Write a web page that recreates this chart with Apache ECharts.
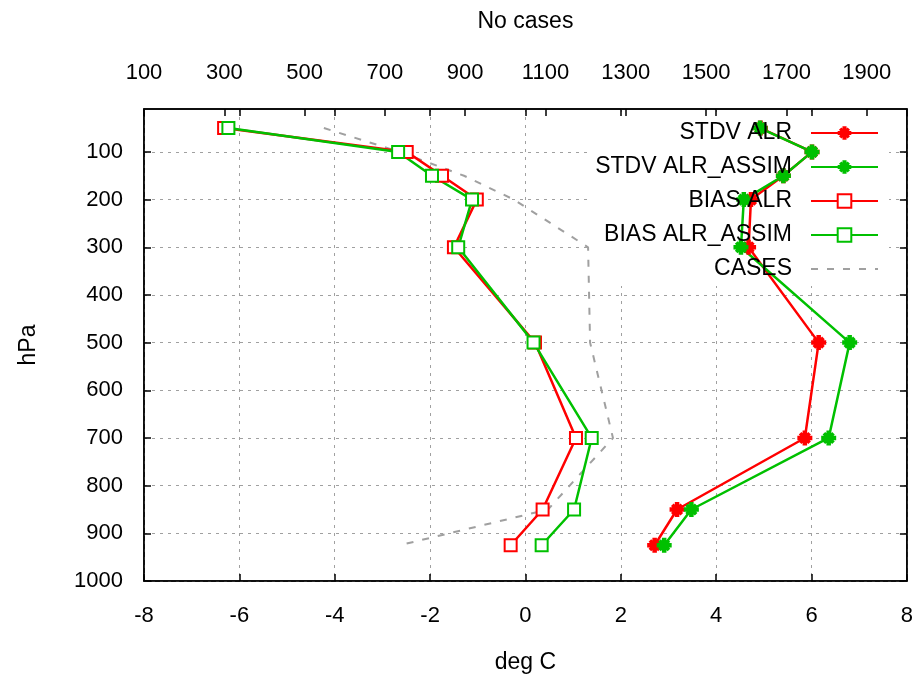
<!DOCTYPE html>
<html>
<head>
<meta charset="utf-8">
<script src="https://cdn.jsdelivr.net/npm/echarts@6/dist/echarts.min.js"></script>
<style>
  html, body { margin: 0; padding: 0; background: #ffffff; }
  #chart { width: 916px; height: 680px; }
</style>
</head>
<body>
<div id="chart"></div>
<script>
// Pressure levels (hPa) of the profile
const levels = [50, 100, 150, 200, 300, 500, 700, 850, 925];

// Standard deviation of the lapse-rate error (deg C)
const stdvAlr      = [4.93, 6.01, 5.41, 4.73, 4.68, 6.15, 5.86, 3.18, 2.71];
const stdvAlrAssim = [4.92, 6.01, 5.41, 4.58, 4.52, 6.80, 6.36, 3.48, 2.91];

// Bias of the lapse-rate error (deg C)
const biasAlr      = [-6.32, -2.49, -1.75, -1.02, -1.50, 0.20, 1.06, 0.36, -0.31];
const biasAlrAssim = [-6.23, -2.67, -1.96, -1.12, -1.41, 0.17, 1.39, 1.02, 0.34];

// Number of cases per level
const cases = [548, 737, 897, 1021, 1206, 1211, 1268, 1106, 737];

// Tick labels
const pressureTicks = [100, 200, 300, 400, 500, 600, 700, 800, 900, 1000];
const caseTicks = [100, 300, 500, 700, 900, 1100, 1300, 1500, 1700, 1900];

const seriesNames = ['STDV ALR', 'STDV ALR_ASSIM', 'BIAS ALR', 'BIAS ALR_ASSIM', 'CASES'];

const FONT = 'Liberation Sans';
const RED = '#ff0000';
const GREEN = '#00c000';
const GREY = '#a0a0a0';

// Eight-armed asterisk marker
const ASTERISK = 'path://M0,7L20,7L20,13L0,13Z' +
  'M7,0L13,0L13,20L7,20Z' +
  'M5.4,1.9L18.1,14.6L14.6,18.1L1.9,5.4Z' +
  'M1.9,14.6L14.6,1.9L18.1,5.4L5.4,18.1Z';

const pairs = (vals) => vals.map((v, i) => [v, levels[i]]);
const plain = (v) => String(v);

function profile(name, vals, color, symbol, size) {
  return {
    name: name,
    type: 'line',
    xAxisIndex: 0,
    yAxisIndex: 0,
    data: pairs(vals),
    symbol: symbol,
    symbolSize: size,
    showAllSymbol: true,
    lineStyle: { color: color, width: 2.5 },
    itemStyle: symbol === 'emptyRect'
      ? { color: color, borderColor: color, borderWidth: 2.5 }
      : { color: color, borderWidth: 0 },
    z: 3
  };
}

const axisText = { color: '#000', fontFamily: FONT, fontSize: 22 };
const nameText = { color: '#000', fontFamily: FONT, fontSize: 23 };
const gridLine = { show: true, lineStyle: { color: GREY, type: [3, 5], width: 1 } };
const tickIn = { show: true, inside: true, length: 7, lineStyle: { color: '#000', width: 1.5 } };
const frameLine = { show: true, onZero: false, lineStyle: { color: '#000', width: 1.5 } };

const chart = echarts.init(document.getElementById('chart'), null, { renderer: 'canvas' });

chart.setOption({
  animation: false,
  backgroundColor: '#ffffff',
  textStyle: { fontFamily: FONT },
  grid: { left: 144, right: 9, top: 109, bottom: 99, containLabel: false,
          show: true, borderColor: '#000', borderWidth: 1.5, backgroundColor: 'transparent' },
  graphic: [{
    type: 'rect',
    shape: { x: 589, y: 117, width: 300, height: 169 },
    style: { fill: '#ffffff' },
    z: 1,
    silent: true
  }],
  legend: {
    data: seriesNames.map((n) => n === 'CASES'
      ? { name: n, itemStyle: { color: 'rgba(0,0,0,0)', borderWidth: 0, opacity: 0 } }
      : { name: n }),
    orient: 'vertical',
    align: 'right',
    right: 32,
    top: 116,
    itemWidth: 67,
    itemHeight: 17,
    itemGap: 10,
    selectedMode: false,
    textStyle: { color: '#000', fontFamily: FONT, fontSize: 23, lineHeight: 24, padding: [0, 14, 0, 0] }
  },
  xAxis: [
    {
      type: 'value', position: 'bottom', min: -8, max: 8, interval: 2,
      name: 'deg C', nameLocation: 'middle', nameGap: 70,
      nameTextStyle: nameText,
      axisLine: frameLine,
      axisTick: tickIn,
      axisLabel: Object.assign({ margin: 24, formatter: plain }, axisText),
      splitLine: gridLine
    },
    {
      type: 'value', position: 'top', min: 100, max: 2000,
      name: 'No cases', nameLocation: 'middle', nameGap: 76,
      nameTextStyle: nameText,
      axisLine: frameLine,
      axisTick: Object.assign({ customValues: caseTicks }, tickIn),
      axisLabel: Object.assign({ margin: 25, customValues: caseTicks, formatter: plain }, axisText),
      splitLine: { show: false }
    },
    {
      // mirror of the temperature ticks along the top edge
      type: 'value', position: 'top', min: -8, max: 8, interval: 2,
      axisLine: { show: false, onZero: false },
      axisTick: tickIn,
      axisLabel: { show: false },
      splitLine: { show: false }
    }
  ],
  yAxis: [
    {
      type: 'value', position: 'left', inverse: true, min: 10, max: 1000,
      name: 'hPa', nameLocation: 'middle', nameGap: 104, nameRotate: 90,
      nameTextStyle: nameText,
      axisLine: frameLine,
      axisTick: Object.assign({ customValues: pressureTicks }, tickIn),
      axisLabel: Object.assign({ margin: 21, customValues: pressureTicks, formatter: plain }, axisText),
      splitLine: gridLine
    },
    {
      // mirror ticks on the right edge
      type: 'value', position: 'right', inverse: true, min: 10, max: 1000,
      axisLine: frameLine,
      axisTick: Object.assign({ customValues: pressureTicks }, tickIn),
      axisLabel: { show: false },
      splitLine: { show: false }
    }
  ],
  series: [
    profile('STDV ALR', stdvAlr, RED, ASTERISK, 15),
    profile('STDV ALR_ASSIM', stdvAlrAssim, GREEN, ASTERISK, 15),
    profile('BIAS ALR', biasAlr, RED, 'emptyRect', 12),
    profile('BIAS ALR_ASSIM', biasAlrAssim, GREEN, 'emptyRect', 12),
    {
      name: 'CASES',
      type: 'line',
      xAxisIndex: 1,
      yAxisIndex: 0,
      data: pairs(cases),
      symbol: 'none',
      lineStyle: { color: GREY, width: 2, type: [7, 9] },
      itemStyle: { color: GREY },
      z: 2
    }
  ]
});
</script>
</body>
</html>
